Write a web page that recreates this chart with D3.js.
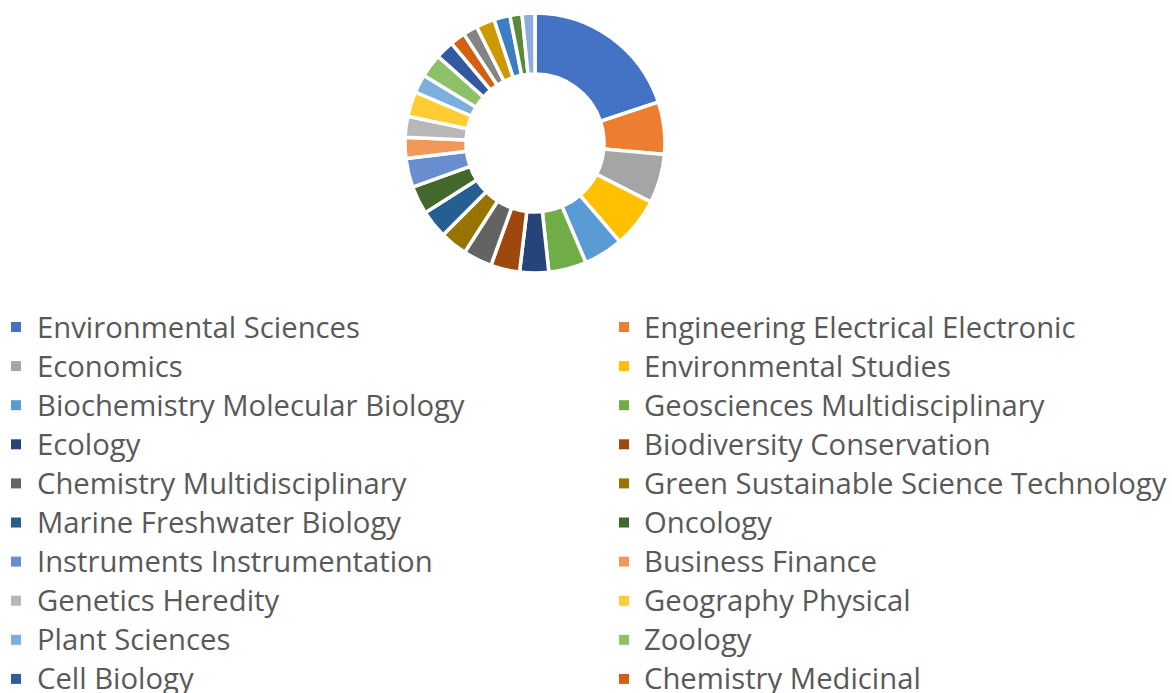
<!DOCTYPE html>
<html>
<head>
<meta charset="utf-8">
<script src="https://cdn.jsdelivr.net/npm/d3@7"></script>
<style>
  html, body { margin: 0; padding: 0; background: #ffffff; }
  svg { display: block; }
</style>
</head>
<body>
<svg id="chart" width="1172" height="693"></svg>
<script>
// Subject categories, in drawing order (clockwise from 12 o'clock)
const categories = [
  "Environmental Sciences",
  "Engineering Electrical Electronic",
  "Economics",
  "Environmental Studies",
  "Biochemistry Molecular Biology",
  "Geosciences Multidisciplinary",
  "Ecology",
  "Biodiversity Conservation",
  "Chemistry Multidisciplinary",
  "Green Sustainable Science Technology",
  "Marine Freshwater Biology",
  "Oncology",
  "Instruments Instrumentation",
  "Business Finance",
  "Genetics Heredity",
  "Geography Physical",
  "Plant Sciences",
  "Zoology",
  "Cell Biology",
  "Chemistry Medicinal",
  "Category 21",
  "Category 22",
  "Category 23",
  "Category 24",
  "Category 25"
];

// Share of records per category (%)
const shares = [
  19.9, 6.5, 6.1, 6.2, 4.9, 4.7, 3.6, 3.6, 3.6, 3.4,
  3.5, 3.5, 3.6, 2.6, 2.6, 3.1, 2.3, 2.9, 2.3, 1.9,
  1.8, 2.3, 2.0, 1.5, 1.6
];

// Number of categories listed in the legend
const legendCount = 20;

// Office-style series palette
const palette = [
  "#4472C4", "#ED7D31", "#A5A5A5", "#FFC000", "#5B9BD5", "#70AD47",
  "#264478", "#9E480E", "#636363", "#997300", "#255E91", "#43682B",
  "#698ED0", "#F1975A", "#B7B7B7", "#FFCD33", "#7CAFDD", "#8CC168",
  "#335AA1", "#D26012", "#848484", "#CC9A00", "#3C7EC4", "#5A8A39",
  "#8FAADC"
];

const data = categories.map((name, i) => ({ name, value: shares[i] }));

const svg = d3.select("#chart");

// ---- Donut ----
const cx = 535, cy = 143;
const outerR = 130, innerR = 69;

const color = d3.scaleOrdinal().domain(categories).range(palette);

const pie = d3.pie()
  .sort(null)
  .value(d => d.value)
  .startAngle(0)
  .endAngle(2 * Math.PI);

const arc = d3.arc().innerRadius(innerR).outerRadius(outerR);

svg.append("g")
  .attr("transform", `translate(${cx},${cy})`)
  .selectAll("path")
  .data(pie(data))
  .join("path")
  .attr("d", arc)
  .attr("fill", d => color(d.data.name))
  .attr("stroke", "#ffffff")
  .attr("stroke-width", 3.5)
  .attr("stroke-linejoin", "miter");

// ---- Legend: two columns, row-major ----
const legendCols = [
  { marker: 11, text: 37 },
  { marker: 619, text: 644 }
];
const rowTop = 327, rowStep = 39.1;
const fontFamily = "'Open Sans', 'Noto Sans', sans-serif";

const legend = svg.append("g").attr("class", "legend");

const items = legend.selectAll("g")
  .data(data.slice(0, legendCount))
  .join("g")
  .attr("transform", (d, i) => {
    const col = legendCols[i % 2];
    const row = Math.floor(i / 2);
    return `translate(${col.marker},${rowTop + row * rowStep})`;
  });

items.append("rect")
  .attr("x", 0)
  .attr("y", -5)
  .attr("width", 10)
  .attr("height", 10)
  .attr("fill", d => color(d.name));

const labels = items.append("text")
  .attr("x", (d, i) => legendCols[i % 2].text - legendCols[i % 2].marker)
  .attr("y", 0)
  .attr("dy", "0.36em")
  .attr("fill", "#595959")
  .style("font-family", fontFamily)
  .style("font-size", "26px")
  .text(d => d.name);

// Size the legend type so the first label spans its column width
const first = labels.node();
const w = first.getComputedTextLength();
const fitted = 26 * 323 / w;
labels.style("font-size", fitted + "px");
</script>
</body>
</html>
